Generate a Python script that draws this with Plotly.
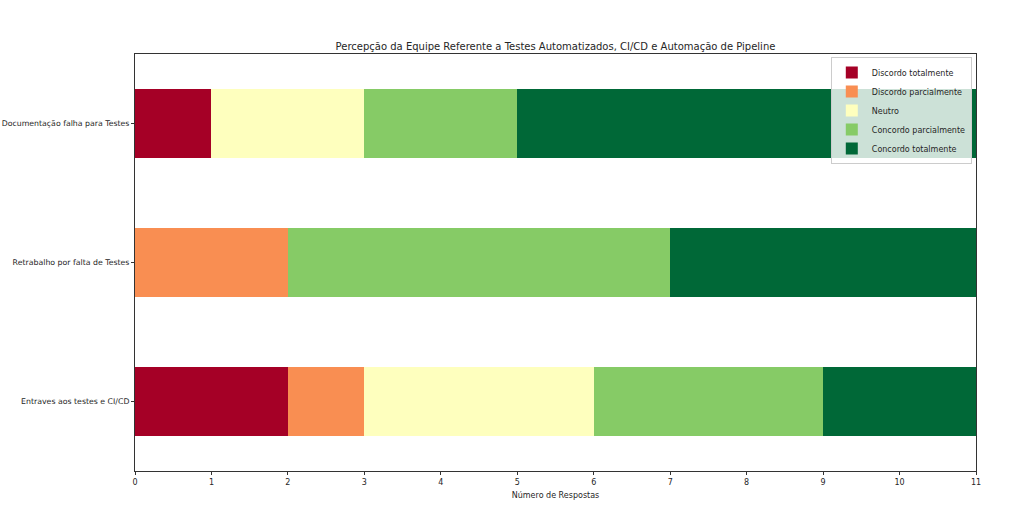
import plotly.graph_objects as go

categories = ["Entraves aos testes e CI/CD", "Retrabalho por falta de Testes", "Documentação falha para Testes"]
series_names = ["Discordo totalmente", "Discordo parcialmente", "Neutro", "Concordo parcialmente", "Concordo totalmente"]
discordo_totalmente = [2, 0, 1]
discordo_parcialmente = [1, 2, 0]
neutro = [3, 0, 2]
concordo_parcialmente = [3, 5, 2]
concordo_totalmente = [2, 4, 6]
series_values = [discordo_totalmente, discordo_parcialmente, neutro, concordo_parcialmente, concordo_totalmente]
colors = ["#a50026", "#f98e52", "#feffbe", "#86cb66", "#006837"]
x_ticks = list(range(0, 12))

W, H = 1024, 521

fig = go.Figure()
for name, vals, col in zip(series_names, series_values, colors):
    fig.add_trace(go.Bar(
        y=categories, x=vals, name=name, orientation="h",
        marker=dict(color=col, line=dict(width=0)), width=0.5,
    ))

fig.update_layout(
    barmode="stack",
    width=W, height=H,
    margin=dict(l=135, r=48, t=54, b=50, autoexpand=False),
    paper_bgcolor="white", plot_bgcolor="white",
    font=dict(family="DejaVu Sans", size=8, color="#262626"),
    title=dict(text="Percepção da Equipe Referente a Testes Automatizados, CI/CD e Automação de Pipeline",
               x=0.5, xanchor="center", xref="paper", yref="container", y=1 - 46/H, yanchor="middle",
               font=dict(size=10, color="#262626")),
    legend=dict(x=0.995, y=0.993, xanchor="right", yanchor="top",
                bgcolor="rgba(255,255,255,0.8)", bordercolor="#cccccc", borderwidth=1,
                font=dict(size=8), traceorder="normal", itemsizing="constant",
                tracegroupgap=0, itemwidth=30),
    showlegend=True,
)
fig.update_xaxes(range=[0, 11], tickvals=x_ticks, ticks="outside", ticklen=3, tickcolor="#333",
                 showgrid=False, zeroline=False, showline=True, linecolor="#333", mirror=True,
                 automargin=False,
                 title=dict(text="Número de Respostas", font=dict(size=8), standoff=6))
fig.update_yaxes(range=[-0.5, 2.5], ticks="outside", ticklen=3, tickcolor="#333",
                 showgrid=False, zeroline=False, showline=True, linecolor="#333", mirror=True,
                 automargin=False, tickfont=dict(size=7.8))

fig.write_html("out.html", config={"displayModeBar": False},
               post_script="document.body.style.margin='0';")
